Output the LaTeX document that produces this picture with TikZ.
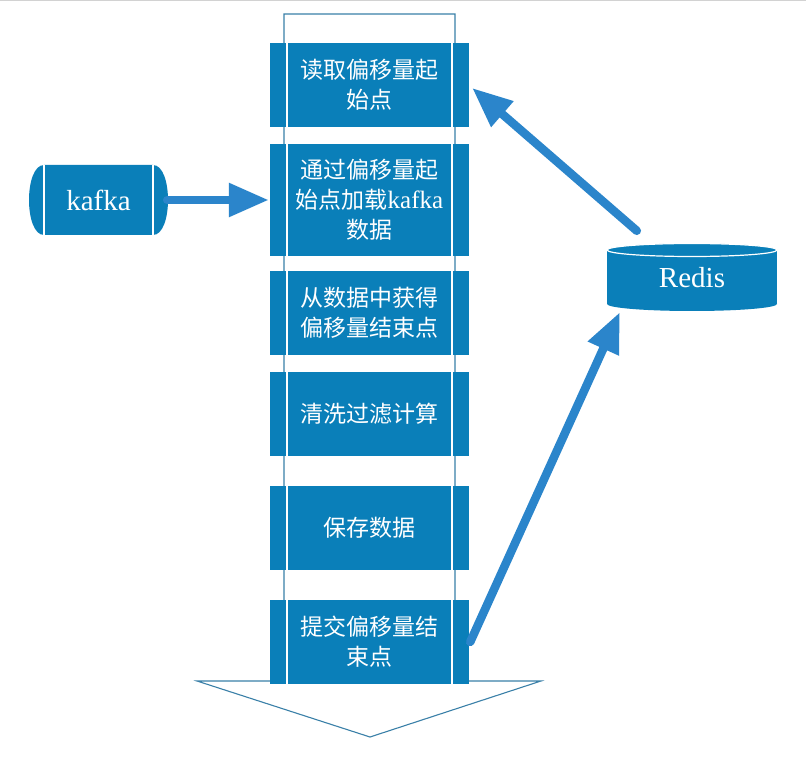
\documentclass[tikz,border=0pt]{standalone}
\usepackage{fontspec}
\newfontfamily\cjk{Noto Sans CJK SC}
\newfontfamily\lserif{Liberation Serif}
\usetikzlibrary{arrows.meta}
\definecolor{boxblue}{HTML}{0A7FB9}
\definecolor{arrblue}{HTML}{2B85CB}
\definecolor{outl}{HTML}{3A80A8}
\begin{document}
\begin{tikzpicture}[x=1pt,y=-1pt,
  procbox/.style={rectangle, fill=boxblue, minimum width=199pt, minimum height=84pt,
    inner sep=0pt, text=white, align=center, font=\cjk\fontsize{23}{30}\selectfont,
    path picture={
      \draw[white,line width=1.6pt] ([xshift=17pt]path picture bounding box.north west) -- ([xshift=17pt]path picture bounding box.south west);
      \draw[white,line width=1.6pt] ([xshift=-17pt]path picture bounding box.north east) -- ([xshift=-17pt]path picture bounding box.south east);
    }},
  bigarrow/.style={draw=arrblue, line width=8.5pt, line cap=round, -{Triangle[length=40pt,width=32pt]}},
  serif/.style={text=white, font=\lserif\fontsize{29}{30}\selectfont}
]
\useasboundingbox (0,0) rectangle (806,759);
\fill[white] (0,0) rectangle (806,759);
\draw[gray!35, line width=2pt] (0,0) -- (806,0);

% big down arrow outline
\draw[outl, line width=1.1pt] (284,14) -- (455,14) -- (455,681) -- (541,681) -- (370,737) -- (197,681) -- (284,681) -- cycle;

% process boxes
\node[procbox] (b1) at (369.5,85) {读取偏移量起\\始点};
\node[procbox, minimum height=112pt] (b2) at (369.5,200) {通过偏移量起\\始点加载{\lserif\fontsize{25}{30}\selectfont kafka}\\数据};
\node[procbox] (b3) at (369.5,313) {从数据中获得\\偏移量结束点};
\node[procbox] (b4) at (369.5,414) {清洗过滤计算};
\node[procbox] (b5) at (369.5,528) {保存数据};
\node[procbox] (b6) at (369.5,642) {提交偏移量结\\束点};

% kafka shape
\fill[boxblue] (44,165) -- (153,165) .. controls (173,165) and (173,235) .. (153,235)
  -- (44,235) .. controls (24,235) and (24,165) .. (44,165) -- cycle;
\draw[white, line width=1.4pt] (44,165) -- (44,235);
\draw[white, line width=1.4pt] (153,165) -- (153,235);
\node[serif, minimum width=139pt, minimum height=70pt, inner sep=0pt] (kafka) at (98.5,200) {kafka};

% Redis cylinder
\fill[boxblue] (607,250) rectangle (777,304);
\fill[boxblue] (692,304) ellipse [x radius=85, y radius=7];
\filldraw[fill=boxblue, draw=white, line width=1.2pt] (692,250) ellipse [x radius=85, y radius=6.5];
\node[serif, minimum width=170pt, minimum height=66pt, inner sep=0pt] (redis) at (692,278) {Redis};

% connectors
\draw[bigarrow] ([xshift=-1pt]kafka.east) -- ([xshift=-1pt]b2.west);
\draw[bigarrow] ([xshift=30pt,yshift=14pt]redis.north west) -- ([xshift=3pt,yshift=-3pt]b1.east);
\draw[bigarrow] ([xshift=1pt]b6.east) -- ([xshift=13pt,yshift=-1pt]redis.south west);
\end{tikzpicture}
\end{document}
